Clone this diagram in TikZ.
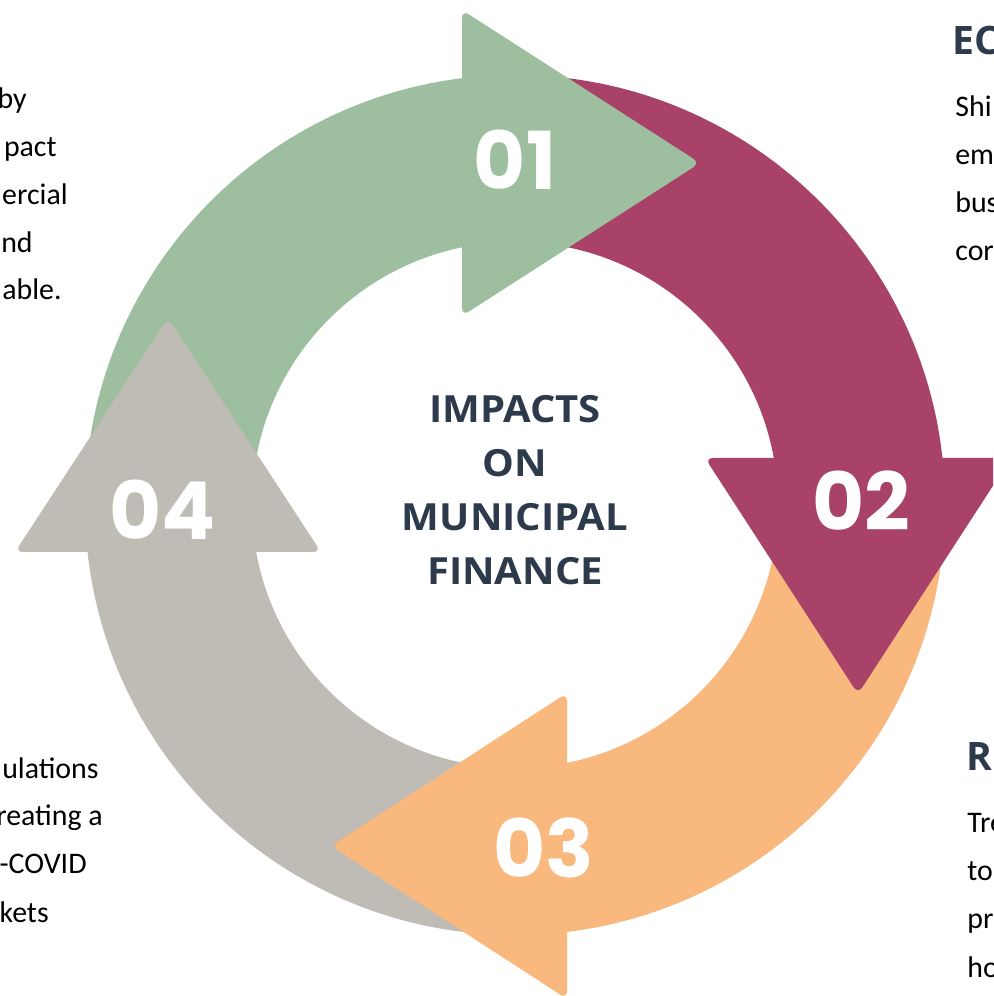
\documentclass[tikz,border=0pt]{standalone}
\usepackage{fontspec}
\setmainfont{Carlito}
\newfontfamily\numfont{Poppins}
\newfontfamily\headfont{Open Sans}
\newfontfamily\hubfont{Open Sans}[FakeStretch=1.07]

\definecolor{sage}{HTML}{9EBF9F}
\definecolor{berry}{HTML}{A84268}
\definecolor{peach}{HTML}{F9B97E}
\definecolor{stone}{HTML}{BFBBB5}
\definecolor{navy}{HTML}{2C3A4B}

\begin{document}
\begin{tikzpicture}[x=0.02cm, y=0.02cm,
  headtip/.style={rounded corners=4.5pt},
  stepnum/.style={font=\numfont\bfseries\fontsize{45.5}{45.5}\selectfont,
    text=white, inner sep=0pt},
  hubtext/.style={font=\hubfont\bfseries\fontsize{21.3}{30.6}\selectfont,
    text=navy, inner sep=0pt, align=center},
  sidehead/.style={font=\headfont\bfseries\fontsize{22.3}{26}\selectfont,
    text=navy, inner sep=0pt},
  sidebody/.style={font=\fontsize{17}{20}\selectfont, text=black, inner sep=0pt}]

% page frame: the ring is centred on the origin
\useasboundingbox (-515,-491) rectangle (478,505);
\clip (-515,-491) rectangle (478,505);

\def\Ro{430}
\def\Ri{263}

% ring bands, one quarter each
\fill[sage]  (180:\Ro) arc[start angle=180, end angle=90,  radius=\Ro]
  -- (90:\Ri)  arc[start angle=90,  end angle=180, radius=\Ri] -- cycle;
\fill[berry] (90:\Ro)  arc[start angle=90,  end angle=0,   radius=\Ro]
  -- (0:\Ri)   arc[start angle=0,   end angle=90,  radius=\Ri] -- cycle;
\fill[peach] (0:\Ro)   arc[start angle=0,   end angle=-90, radius=\Ro]
  -- (-90:\Ri) arc[start angle=-90, end angle=0,   radius=\Ri] -- cycle;
\fill[stone] (-90:\Ro) arc[start angle=-90, end angle=-180, radius=\Ro]
  -- (180:\Ri) arc[start angle=180, end angle=270, radius=\Ri] -- cycle;

% arrow heads, drawn over the following band
\fill[sage,  headtip] (-53,495) -- (185,342) -- (-53,189) -- cycle;
\fill[berry, headtip] (190,47) -- (343,-189) -- (496,47) -- cycle;
\fill[peach, headtip] (52,-188) -- (-184,-341) -- (52,-494) -- cycle;
\fill[stone, headtip] (-194,-47) -- (-347,187) -- (-500,-47) -- cycle;

% step numbers
\node[stepnum] (n1) at (0,345)      {01};
\node[stepnum] (n2) at (346,4.5)    {02};
\node[stepnum] (n3) at (29,-342.5)  {03};
\node[stepnum] (n4) at (-352.5,-5)  {04};

% hub title
\node[hubtext, anchor=north] (hub) at (0,109.7)
  {IMPACTS\\ON\\MUNICIPAL\\FINANCE};

% upper left text
\node[sidebody, anchor=base east] (tl1) at (-488,396) {by};
\node[sidebody, anchor=base east] (tl2) at (-458,348) {pact};
\node[sidebody, anchor=base east] (tl3) at (-447,300) {ercial};
\node[sidebody, anchor=base east] (tl4) at (-482,252) {nd};
\node[sidebody, anchor=base east] (tl5) at (-453,205) {able.};

% lower left text
\node[sidebody, anchor=base east] (bl1) at (-416,-273) {ulations};
\node[sidebody, anchor=base east] (bl2) at (-412,-320) {reating a};
\node[sidebody, anchor=base east] (bl3) at (-428,-368) {-COVID};
\node[sidebody, anchor=base east] (bl4) at (-466,-417) {kets};

% upper right text
\node[sidehead, anchor=base west] (trh) at (437,450) {EC};
\node[sidebody, anchor=base west] (tr1) at (440,388) {Shi};
\node[sidebody, anchor=base west] (tr2) at (440,340) {em};
\node[sidebody, anchor=base west] (tr3) at (440,292) {bus};
\node[sidebody, anchor=base west] (tr4) at (440,244) {cor};

% lower right text
\node[sidehead, anchor=base west] (brh) at (451,-265) {RE};
\node[sidebody, anchor=base west] (br1) at (452,-327) {Tre};
\node[sidebody, anchor=base west] (br2) at (452,-375) {to};
\node[sidebody, anchor=base west] (br3) at (452,-423) {pr};
\node[sidebody, anchor=base west] (br4) at (452,-472) {ho};
\end{tikzpicture}
\end{document}
